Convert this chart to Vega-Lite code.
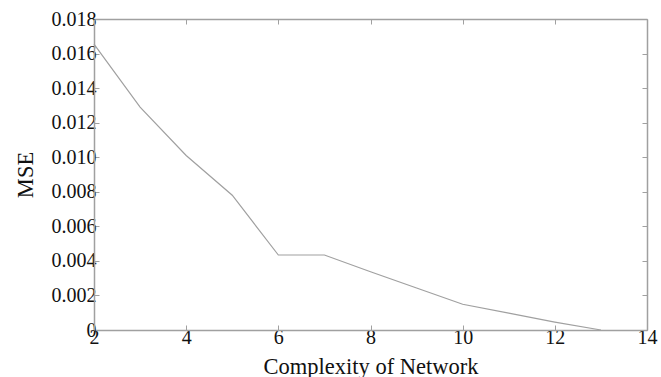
{
  "$schema": "https://vega.github.io/schema/vega-lite/v6.json",
  "width": 553,
  "height": 311,
  "autosize": {"type": "none"},
  "padding": {"left": 94, "top": 19, "right": 14, "bottom": 47},
  "background": "white",
  "config": {
    "view": {"stroke": null},
    "axis": {
      "grid": false,
      "domainColor": "#a0a0a0",
      "domainWidth": 1.5,
      "tickColor": "#a0a0a0",
      "tickSize": -5,
      "tickWidth": 1,
      "labelFont": "Liberation Serif",
      "titleFont": "Liberation Serif",
      "labelFontSize": 20,
      "titleFontSize": 22.5,
      "labelColor": "#111",
      "titleColor": "#111",
      "titleFontWeight": "normal"
    }
  },
  "data": {
    "values": [
      {"complexity": 2, "mse": 0.01655},
      {"complexity": 3, "mse": 0.0129},
      {"complexity": 4, "mse": 0.0101},
      {"complexity": 5, "mse": 0.0078},
      {"complexity": 6, "mse": 0.00434},
      {"complexity": 7, "mse": 0.00434},
      {"complexity": 8, "mse": 0.00337},
      {"complexity": 9, "mse": 0.00243},
      {"complexity": 10, "mse": 0.00149},
      {"complexity": 11, "mse": 0.00098},
      {"complexity": 12, "mse": 0.00046},
      {"complexity": 13, "mse": 0.0}
    ]
  },
  "resolve": {"axis": {"x": "independent", "y": "independent"}},
  "layer": [
    {
      "mark": {"type": "line", "color": "#a0a0a0", "strokeWidth": 1.2},
      "encoding": {
        "x": {
          "field": "complexity", "type": "quantitative",
          "scale": {"domain": [2, 14], "nice": false, "zero": false},
          "axis": {"orient": "bottom", "title": "Complexity of Network", "values": [2, 4, 6, 8, 10, 12, 14], "labelPadding": 2, "titlePadding": 8, "labelFlush": false}
        },
        "y": {
          "field": "mse", "type": "quantitative",
          "scale": {"domain": [0, 0.018], "nice": false},
          "axis": {"orient": "left", "title": "MSE", "values": [0, 0.002, 0.004, 0.006, 0.008, 0.01, 0.012, 0.014, 0.016, 0.018],
            "labelExpr": "datum.value == 0 ? '0' : format(datum.value, '.3f')", "labelPadding": 3, "titlePadding": 14, "labelFlush": false}
        }
      }
    },
    {
      "mark": {"type": "line", "opacity": 0},
      "encoding": {
        "x": {
          "field": "complexity", "type": "quantitative",
          "scale": {"domain": [2, 14], "nice": false, "zero": false},
          "axis": {"orient": "top", "title": null, "labels": false, "values": [2, 4, 6, 8, 10, 12, 14]}
        },
        "y": {
          "field": "mse", "type": "quantitative",
          "scale": {"domain": [0, 0.018], "nice": false},
          "axis": {"orient": "right", "title": null, "labels": false, "values": [0, 0.002, 0.004, 0.006, 0.008, 0.01, 0.012, 0.014, 0.016, 0.018]}
        }
      }
    }
  ]
}
